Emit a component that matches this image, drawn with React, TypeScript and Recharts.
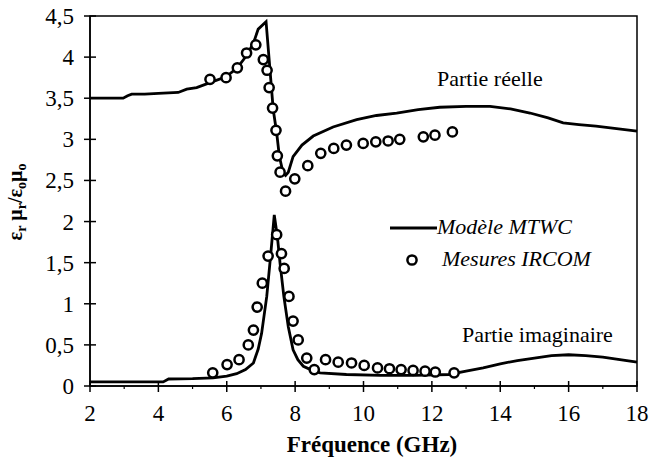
import React from 'react';
import { ComposedChart, Line, Scatter, XAxis, YAxis, ReferenceArea, Legend } from 'recharts';

// MTWC model, real part
const modelRealFreq = [2, 2.5, 2.97, 3.1, 3.22, 3.6, 4.0, 4.58, 4.83, 5.12, 5.51, 5.98, 6.31, 6.58, 6.78, 6.92, 7.15, 7.36, 7.46, 7.54, 7.65, 7.72, 7.8, 7.94, 8.2, 8.53, 9.11, 9.8, 10.38, 10.97, 11.6, 12.23, 13.0, 13.7, 14.3, 14.87, 15.4, 15.84, 16.3, 16.8, 17.4, 18];
const modelRealVal = [3.5, 3.5, 3.5, 3.53, 3.55, 3.55, 3.56, 3.57, 3.61, 3.63, 3.69, 3.76, 3.87, 4.02, 4.17, 4.34, 4.43, 3.36, 3.08, 2.79, 2.59, 2.56, 2.6, 2.79, 2.93, 3.04, 3.15, 3.24, 3.29, 3.32, 3.36, 3.39, 3.4, 3.4, 3.37, 3.32, 3.26, 3.2, 3.18, 3.16, 3.13, 3.1];

// MTWC model, imaginary part
const modelImagFreq = [2, 4.14, 4.3, 5.0, 5.6, 6.0, 6.29, 6.55, 6.78, 6.92, 7.02, 7.17, 7.28, 7.39, 7.48, 7.56, 7.67, 7.8, 7.94, 8.08, 8.24, 8.5, 8.73, 9.5, 10.5, 11.5, 12.5, 13.0, 13.5, 14.0, 14.5, 15.0, 15.5, 16.0, 16.5, 17.0, 17.5, 18];
const modelImagVal = [0.05, 0.05, 0.085, 0.09, 0.1, 0.12, 0.15, 0.2, 0.28, 0.45, 0.64, 1.09, 1.57, 2.08, 1.82, 1.49, 1.09, 0.72, 0.44, 0.32, 0.24, 0.19, 0.16, 0.14, 0.13, 0.13, 0.14, 0.18, 0.22, 0.27, 0.31, 0.34, 0.37, 0.38, 0.37, 0.35, 0.32, 0.29];

// IRCOM measurements, real part
const measRealFreq = [5.51, 5.98, 6.31, 6.58, 6.85, 7.07, 7.18, 7.24, 7.34, 7.44, 7.48, 7.56, 7.72, 7.99, 8.37, 8.75, 9.13, 9.5, 9.99, 10.36, 10.72, 11.06, 11.75, 12.09, 12.6];
const measRealVal = [3.73, 3.75, 3.87, 4.05, 4.15, 3.97, 3.84, 3.63, 3.38, 3.11, 2.8, 2.6, 2.37, 2.52, 2.68, 2.83, 2.89, 2.93, 2.95, 2.97, 2.98, 3.0, 3.03, 3.05, 3.09];

// IRCOM measurements, imaginary part
const measImagFreq = [5.59, 6.01, 6.36, 6.63, 6.78, 6.89, 7.04, 7.21, 7.46, 7.6, 7.68, 7.82, 7.94, 8.09, 8.34, 8.56, 8.89, 9.26, 9.65, 10.02, 10.41, 10.76, 11.1, 11.45, 11.8, 12.1, 12.65];
const measImagVal = [0.16, 0.26, 0.32, 0.5, 0.68, 0.96, 1.25, 1.58, 1.84, 1.61, 1.43, 1.09, 0.79, 0.56, 0.34, 0.2, 0.32, 0.29, 0.28, 0.25, 0.22, 0.21, 0.2, 0.19, 0.18, 0.17, 0.16];

const xTicks = [2, 3, 4, 5, 6, 7, 8, 9, 10, 11, 12, 13, 14, 15, 16, 17, 18];
const yTicks = [0, 0.5, 1, 1.5, 2, 2.5, 3, 3.5, 4, 4.5];

const toPoints = (xs: number[], ys: number[]) => xs.map((x, i) => ({ x, y: ys[i] }));

const FONT = '"Liberation Serif", "Times New Roman", serif';

const XTick = (props: any) => {
  const { x, y, payload } = props;
  const major = payload.value % 2 === 0;
  if (!major) {
    return <line x1={x} x2={x} y1={y} y2={y + 3} stroke="#000" strokeWidth={1.2} />;
  }
  return (
    <g>
      <line x1={x} x2={x} y1={y - 5} y2={y + 6} stroke="#000" strokeWidth={1.5} />
      <text x={x} y={y + 35} textAnchor="middle" fontSize={23} style={{ fontFamily: FONT }} fill="#000">
        {payload.value}
      </text>
    </g>
  );
};

const YTick = (props: any) => {
  const { x, y, payload } = props;
  return (
    <g>
      <line x1={x - 6} x2={x + 6} y1={y} y2={y} stroke="#000" strokeWidth={1.5} />
      <text x={x - 16} y={y + 8} textAnchor="end" fontSize={23} style={{ fontFamily: FONT }} fill="#000">
        {String(payload.value).replace('.', ',')}
      </text>
    </g>
  );
};

const Ring = (props: any) => {
  const { cx, cy } = props;
  if (cx == null || cy == null) return null;
  return <circle cx={cx} cy={cy} r={4.6} fill="#fff" stroke="#000" strokeWidth={2.5} />;
};

const LegendBox = () => (
  <svg width={240} height={64} style={{ overflow: 'visible', fontFamily: FONT }}>
    <line x1={10} x2={57} y1={18} y2={18} stroke="#000" strokeWidth={2.8} />
    <text x={57} y={24} fontSize={22} fontStyle="italic">Modèle MTWC</text>
    <circle cx={32} cy={50} r={4.6} fill="#fff" stroke="#000" strokeWidth={2.5} />
    <text x={62} y={56} fontSize={22} fontStyle="italic">Mesures IRCOM</text>
  </svg>
);

export default function App() {
  return (
    <div style={{ position: 'absolute', left: 0, top: 0, width: 650, height: 463, background: '#fff' }}>
      <ComposedChart width={650} height={463} margin={{ top: 16, right: 13, left: 0, bottom: 0 }}>
        <XAxis
          dataKey="x"
          type="number"
          domain={[2, 18]}
          ticks={xTicks}
          interval={0}
          height={77}
          tickSize={0}
          tickMargin={0}
          tickLine={false}
          tick={<XTick />}
          axisLine={{ stroke: '#000', strokeWidth: 1.5 }}
        />
        <YAxis
          dataKey="y"
          type="number"
          domain={[0, 4.5]}
          ticks={yTicks}
          interval={0}
          width={90}
          tickSize={0}
          tickMargin={0}
          tickLine={false}
          tick={<YTick />}
          axisLine={{ stroke: '#000', strokeWidth: 1.5 }}
        />
        <ReferenceArea x1={2} x2={18} y1={0} y2={4.5} fill="none" stroke="#000" strokeWidth={1.5} />
        <Line data={toPoints(modelRealFreq, modelRealVal)} dataKey="y" type="linear" stroke="#000" strokeWidth={2.8} dot={false} isAnimationActive={false} />
        <Line data={toPoints(modelImagFreq, modelImagVal)} dataKey="y" type="linear" stroke="#000" strokeWidth={2.8} dot={false} isAnimationActive={false} />
        <Scatter data={toPoints(measRealFreq, measRealVal)} dataKey="y" shape={<Ring />} isAnimationActive={false} />
        <Scatter data={toPoints(measImagFreq, measImagVal)} dataKey="y" shape={<Ring />} isAnimationActive={false} />
        <Legend
          layout="horizontal"
          verticalAlign="middle"
          content={() => <LegendBox />}
          wrapperStyle={{ position: 'absolute', left: 380, top: 210, width: 240, height: 64 }}
        />
      </ComposedChart>
      <svg width={650} height={463} style={{ position: 'absolute', left: 0, top: 0, pointerEvents: 'none', fontFamily: FONT }}>
        <text x={437} y={86} fontSize={22}>Partie réelle</text>
        <text x={462} y={342} fontSize={22}>Partie imaginaire</text>
        <text x={372} y={452} textAnchor="middle" fontSize={23} fontWeight="bold">Fréquence (GHz)</text>
        <text transform="translate(22,202) rotate(-90)" textAnchor="middle" fontSize={20} fontWeight="bold">
          ε<tspan dy={4} fontSize={14}>r</tspan>
          <tspan dy={-4}> μ</tspan>
          <tspan dy={4} fontSize={14}>r</tspan>
          <tspan dy={-4}>/ε</tspan>
          <tspan dy={4} fontSize={14}>o</tspan>
          <tspan dy={-4}>μ</tspan>
          <tspan dy={4} fontSize={14}>o</tspan>
        </text>
      </svg>
    </div>
  );
}
